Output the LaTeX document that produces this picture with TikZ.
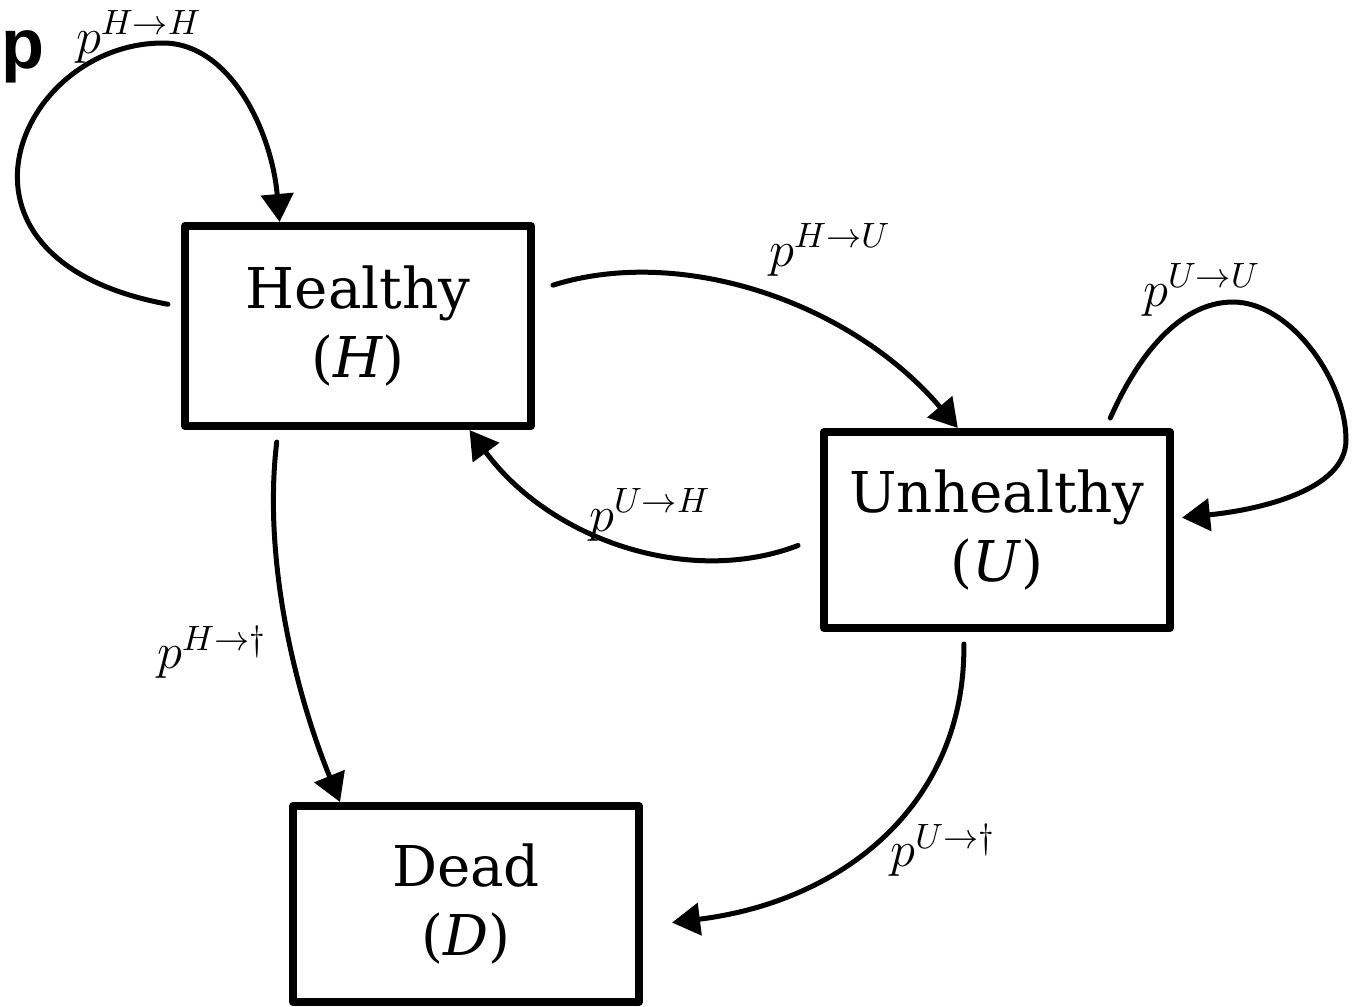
\documentclass[tikz,border=0pt]{standalone}
\usepackage{fontspec}
\setmainfont{DejaVu Serif}
\setsansfont{Liberation Sans}
\usetikzlibrary{arrows.meta}
\begin{document}
\begin{tikzpicture}[>={Triangle[length=2.8mm,width=3.2mm]},line join=round,line cap=round,
	state/.style={draw,line width=0.08cm,minimum width=3.46cm,minimum height=1.96cm,align=center,font=\fontsize{16}{19.5}\selectfont},
	trans/.style={->,line width=0.05cm},
	lbl/.style={inner sep=0,font=\fontsize{14.4}{17}\selectfont}]
	\useasboundingbox (0,0) rectangle (13.64,-10.06);
	% states
	\node[state,minimum height=2.0cm] (H) at (3.58,-3.26) {Healthy\\(\textit{H})};
	\node[state] (U) at (9.97,-5.30) {Unhealthy\\(\textit{U})};
	\node[state] (D) at (4.66,-9.04) {Dead\\(\textit{D})};
	\node[anchor=base west,inner sep=0,font=\sffamily\bfseries\fontsize{20}{24}\selectfont] (panel) at (0.01,-0.68) {p};
	% transitions
	\draw[trans] ([xshift=-1.3mm]H.173) .. controls +(-2.45,0.45) and +(-1.45,0) .. (1.63,-0.43)
		.. controls +(0.67,0) and +(-0.08,0.91) .. (H.127);
	\draw[trans] ([xshift=1.8mm]H.13) .. controls +(1.27,0.40) and +(-1.08,1.27) .. (U.111);
	\draw[trans] ([xshift=-2.2mm]U.185) .. controls +(-1.10,-0.42) and +(0.80,-1.09) .. (H.317);
	\draw[trans] ([yshift=1mm]U.42) .. controls +(0.32,0.72) and +(-0.48,0) .. (12.33,-3.02)
		.. controls +(0.57,0) and +(0,0.60) .. (13.46,-4.40)
		.. controls +(0,-0.50) and +(0.78,0.08) .. ([xshift=0.8mm]U.4);
	\draw[trans] ([yshift=-1.2mm]H.232) .. controls +(-0.14,-1.17) and +(-0.45,1.10) .. (D.141);
	\draw[trans] ([yshift=-1.2mm]U.252) .. controls +(0.02,-1.55) and +(1.77,0.22) .. ([xshift=2.9mm]D.354);
	% labels
	\node[lbl] (pHH) at (1.39,-0.37) {$p^{H\to H}$};
	\node[lbl] (pHU) at (8.30,-2.50) {$p^{H\to U}$};
	\node[lbl] (pUH) at (6.50,-5.15) {$p^{U\to H}$};
	\node[lbl] (pUU) at (12.02,-2.90) {$p^{U\to U}$};
	\node[lbl] (pHD) at (2.12,-6.52) {$p^{H\to\dagger}$};
	\node[lbl] (pUD) at (9.43,-8.50) {$p^{U\to\dagger}$};
\end{tikzpicture}
\end{document}
